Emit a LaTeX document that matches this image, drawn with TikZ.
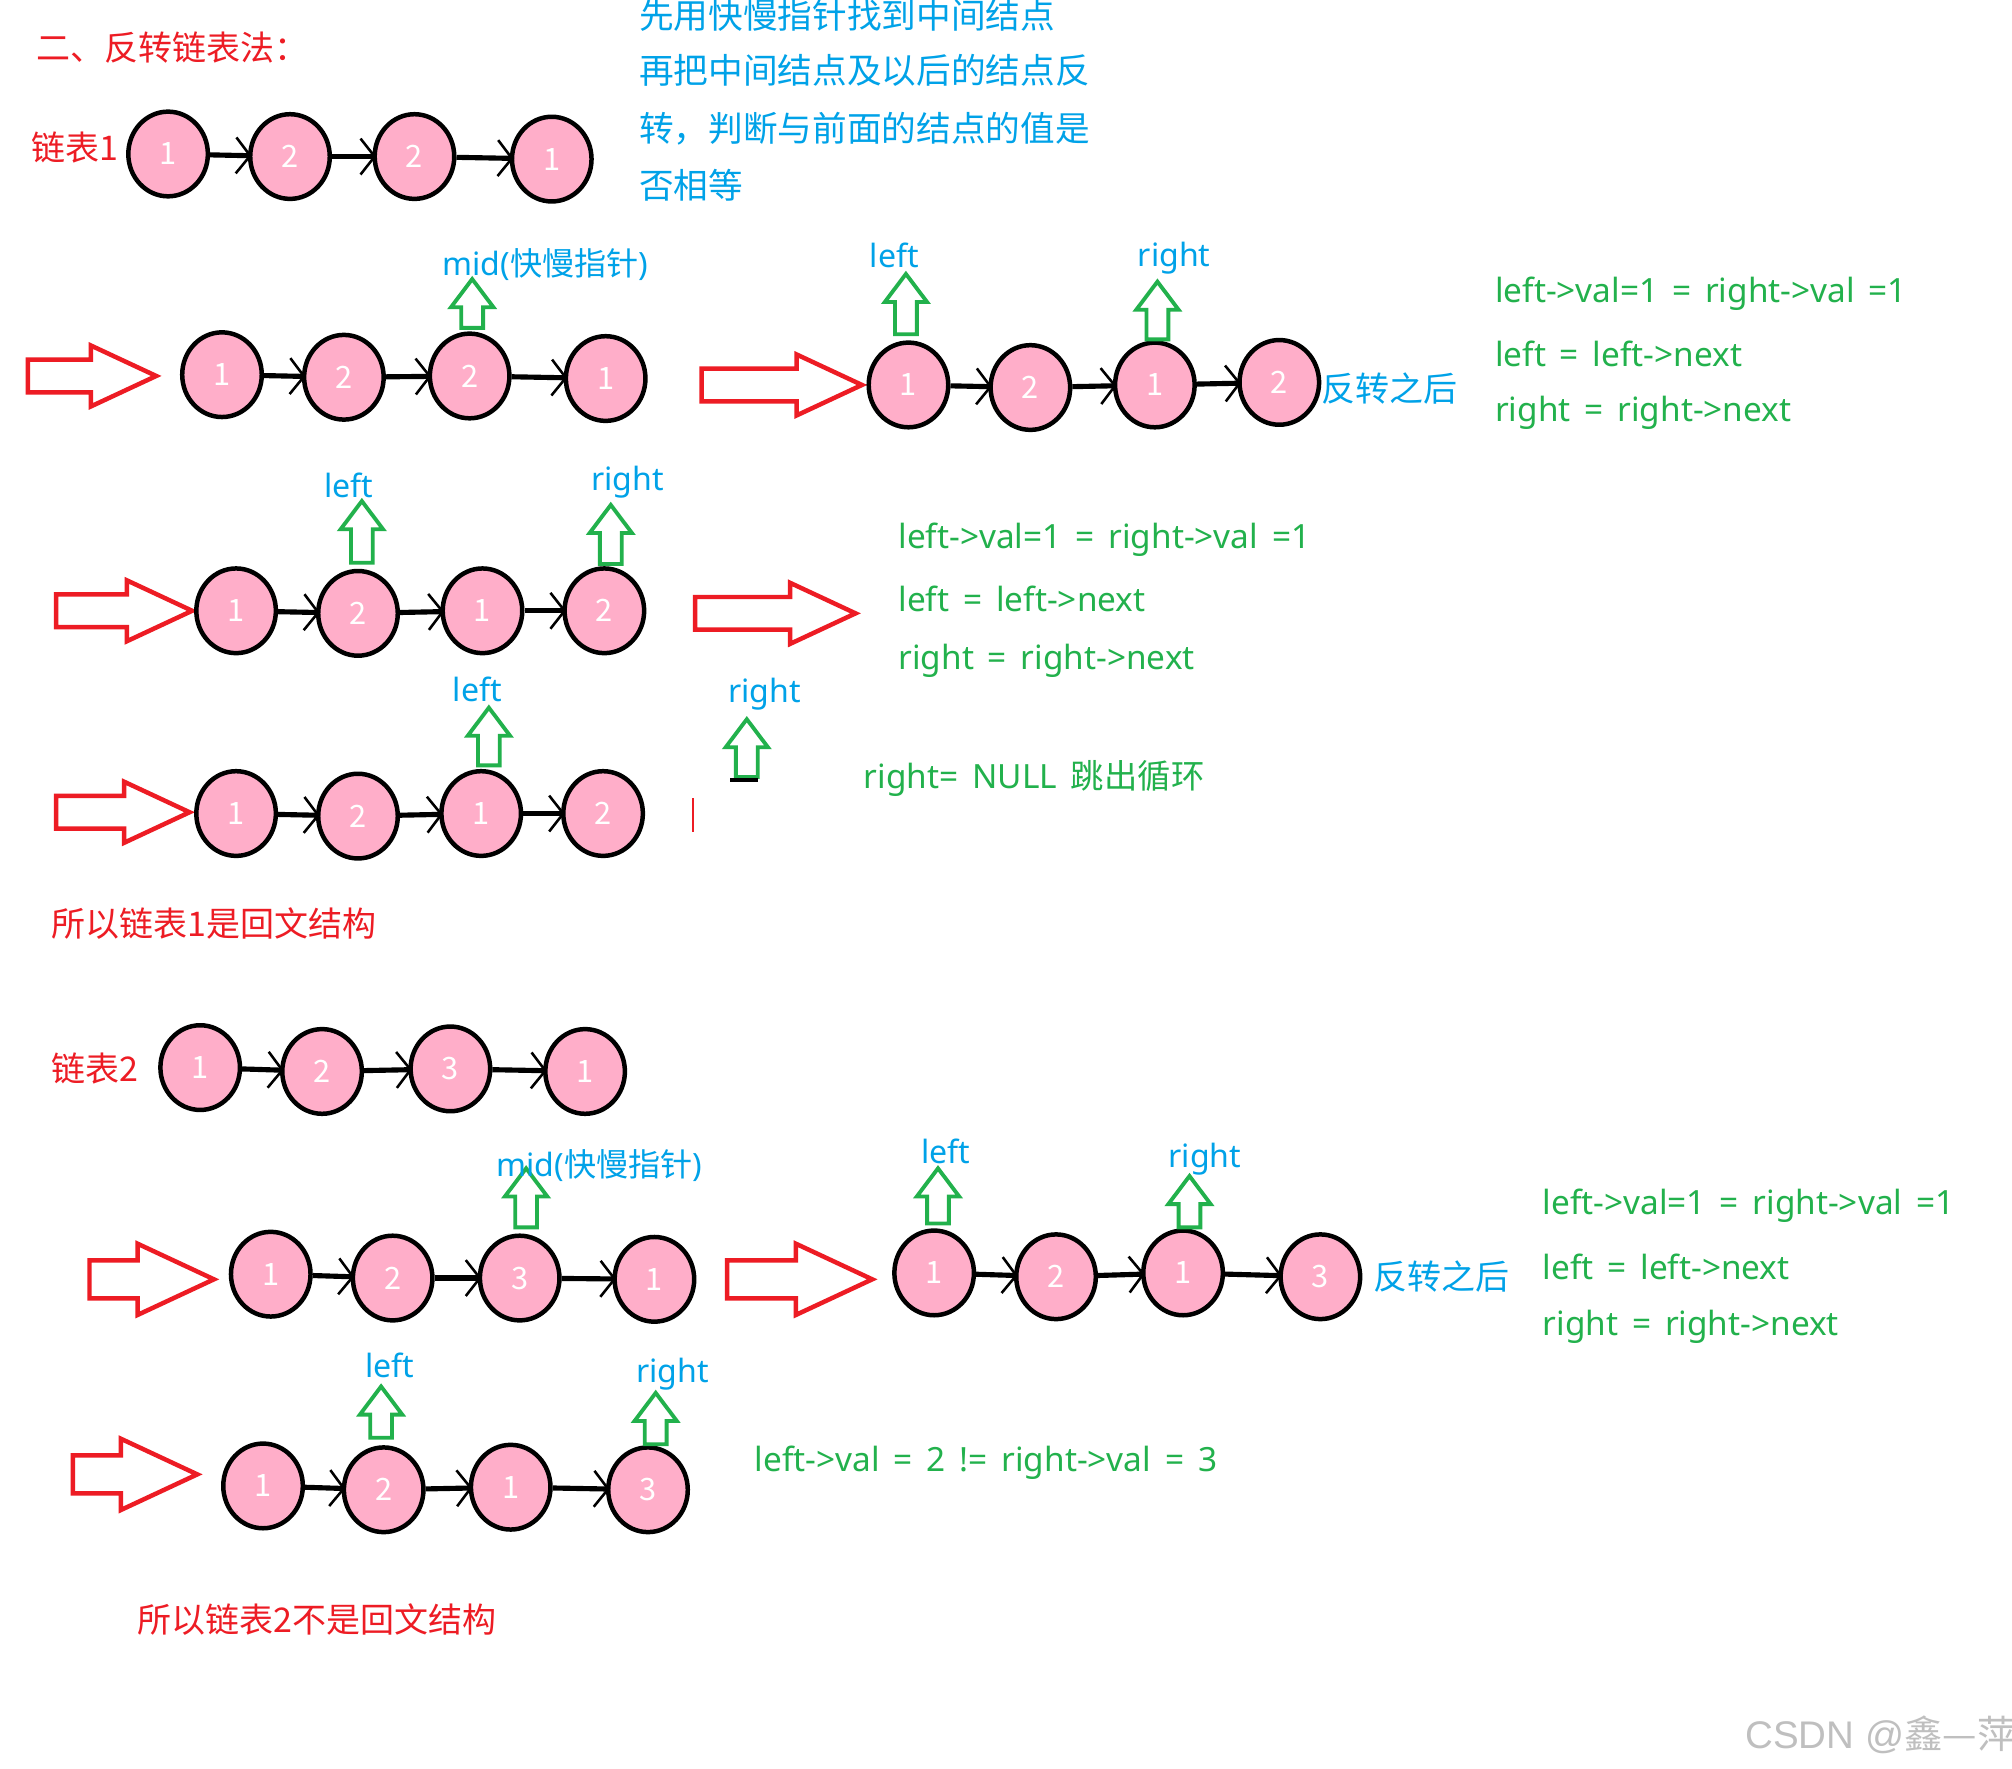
\documentclass[tikz,border=0pt]{standalone}
\usepackage{fontspec}
\setmainfont{Noto Sans}[WordSpace=1.6]
\newfontfamily\cjk{Noto Sans CJK SC}
\newfontfamily\wmfont{Liberation Sans}
\usetikzlibrary{shapes.geometric,shapes.arrows,arrows.meta}
\definecolor{redc}{HTML}{ED1C24}
\definecolor{bluec}{HTML}{00A2E8}
\definecolor{greenc}{HTML}{22B14C}
\definecolor{pinkc}{HTML}{FFAEC9}
\tikzset{
  lnode/.style={ellipse, draw=black, line width=3.5pt, fill=pinkc, minimum width=62pt, minimum height=66pt, inner sep=0pt, text=white, font=\cjk\fontsize{24}{26}\selectfont},
  link/.style={line width=4pt, shorten >=-3pt, -{Straight Barb[length=11pt,width=28pt,line width=2pt]}},
  redarr/.style={single arrow, draw=redc, line width=3.5pt, inner sep=11pt, single arrow head extend=11pt, single arrow tip angle=50, anchor=tail},
  grnarr/.style={single arrow, draw=greenc, line width=3pt, inner sep=7pt, single arrow head extend=8pt, single arrow tip angle=74, shape border rotate=90, anchor=tail},
  redtxt/.style={text=redc, inner sep=0pt, anchor=west, font=\cjk\fontsize{26.5}{30}\selectfont},
  bluetxt/.style={text=bluec, inner sep=0pt, font=\fontsize{25}{30}\selectfont},
  bluepar/.style={text=bluec, inner sep=0pt, anchor=west, font=\cjk\fontsize{27}{30}\selectfont},
  grntxt/.style={text=greenc, inner sep=0pt, anchor=west, font=\fontsize{26}{30}\selectfont},
}
\begin{document}
\begin{tikzpicture}[x=1pt,y=-1pt]
\useasboundingbox[fill=white] (0,0) rectangle (1568,1378.6);

% titles
\node[redtxt] (title) at (28,37) {二、反转链表法：};
\node[bluepar] (p1) at (498,12) {先用快慢指针找到中间结点};
\node[bluepar] (p2) at (498,55) {再把中间结点及以后的结点反};
\node[bluepar] (p3) at (498,100) {转，判断与前面的结点的值是};
\node[bluepar] (p4) at (498,144) {否相等};

% chain 1
\node[redtxt] (lab1) at (24,115) {链表1};
\node[lnode] (c1a) at (131,120) {1};
\node[lnode] (c1b) at (226,122) {2};
\node[lnode] (c1c) at (323,122) {2};
\node[lnode] (c1d) at (430,124) {1};
\draw[link] (c1a) -- (c1b);
\draw[link] (c1b) -- (c1c);
\draw[link] (c1c) -- (c1d);

% row A left
\node[redarr, minimum height=100pt] (raA) at (20,293) {};
\node[lnode] (a1) at (173,292) {1};
\node[lnode] (a2) at (268,294) {2};
\node[lnode] (a3) at (366,293) {2};
\node[lnode] (a4) at (472,295) {1};
\draw[link] (a1) -- (a2);
\draw[link] (a2) -- (a3);
\draw[link] (a3) -- (a4);
\node[grnarr, minimum height=38pt] (gA) at (368,257) {};
\node[bluetxt] (midA) at (425,206) {mid({\cjk 快慢指针})};

% row A right
\node[redarr, minimum height=125pt] (raA2) at (545,300) {};
\node[lnode] (b1) at (708,300) {1};
\node[lnode] (b2) at (803,302) {2};
\node[lnode] (b3) at (900,300) {1};
\node[lnode] (b4) at (997,298) {2};
\draw[link] (b1) -- (b2);
\draw[link] (b2) -- (b3);
\draw[link] (b3) -- (b4);
\node[grnarr, minimum height=47pt] (gAl) at (706,262) {};
\node[grnarr, minimum height=45pt] (gAr) at (902,266) {};
\node[bluetxt] (lA) at (697,199) {left};
\node[bluetxt] (rA) at (915,201) {right};
\node[bluetxt, anchor=west, font=\cjk\fontsize{26.5}{30}\selectfont] (fA) at (1030,303) {反转之后};
\node[grntxt] (tA1) at (1165,229) {left->val=1 = right->val =1};
\node[grntxt] (tA2) at (1165,276) {left = left->next};
\node[grntxt] (tA3) at (1165,322) {right = right->next};

% row B
\node[redarr, minimum height=106pt] (raB) at (42,476) {};
\node[lnode] (d1) at (184,476) {1};
\node[lnode] (d2) at (279,478) {2};
\node[lnode] (d3) at (376,476) {1};
\node[lnode] (d4) at (471,476) {2};
\draw[link] (d1) -- (d2);
\draw[link] (d2) -- (d3);
\draw[link] (d3) -- (d4);
\node[grnarr, minimum height=48pt] (gBl) at (282,440) {};
\node[grnarr, minimum height=46pt] (gBr) at (476,441) {};
\node[bluetxt] (lB) at (272,378) {left};
\node[bluetxt] (rB) at (489,376) {right};
\node[redarr, minimum height=125pt] (raB2) at (540,478) {};
\node[grntxt] (tB1) at (700,421) {left->val=1 = right->val =1};
\node[grntxt] (tB2) at (700,467) {left = left->next};
\node[grntxt] (tB3) at (700,515) {right = right->next};

% row C
\node[redarr, minimum height=104pt] (raC) at (42,633) {};
\node[lnode] (e1) at (184,634) {1};
\node[lnode] (e2) at (279,636) {2};
\node[lnode] (e3) at (375,634) {1};
\node[lnode] (e4) at (470,634) {2};
\draw[link] (e1) -- (e2);
\draw[link] (e2) -- (e3);
\draw[link] (e3) -- (e4);
\node[grnarr, minimum height=45pt] (gCl) at (381,598) {};
\node[grnarr, minimum height=45pt] (gCr) at (582,607) {};
\draw[line width=3pt] (569,608) -- (591,608);
\draw[redc, line width=2pt] (540,622) -- (540,648);
\node[bluetxt] (lC) at (372,537) {left};
\node[bluetxt] (rC) at (596,541) {right};
\node[grntxt] (tC) at (673,607) {right= NULL {\cjk 跳出循环}};

\node[redtxt] (con1) at (40,720) {所以链表1是回文结构};

% chain 2
\node[redtxt] (lab2) at (40,833) {链表2};
\node[lnode] (c2a) at (156,832) {1};
\node[lnode] (c2b) at (251,835) {2};
\node[lnode] (c2c) at (351,833) {3};
\node[lnode] (c2d) at (456,835) {1};
\draw[link] (c2a) -- (c2b);
\draw[link] (c2b) -- (c2c);
\draw[link] (c2c) -- (c2d);

% row D left
\node[redarr, minimum height=97pt, inner sep=13pt, single arrow head extend=13pt] (raD) at (68,997) {};
\node[lnode] (f1) at (211,993) {1};
\node[lnode] (f2) at (306,996) {2};
\node[lnode] (f3) at (405,996) {3};
\node[lnode] (f4) at (510,997) {1};
\draw[link] (f1) -- (f2);
\draw[link] (f2) -- (f3);
\draw[link] (f3) -- (f4);
\node[grnarr, minimum height=46pt] (gD) at (410,958) {};
\node[bluetxt] (midD) at (467,908) {mid({\cjk 快慢指针})};

% row D right
\node[redarr, minimum height=113pt, inner sep=13pt, single arrow head extend=13pt] (raD2) at (565,997) {};
\node[lnode] (g1) at (728,992) {1};
\node[lnode] (g2) at (823,995) {2};
\node[lnode] (g3) at (922,992) {1};
\node[lnode] (g4) at (1029,995) {3};
\draw[link] (g1) -- (g2);
\draw[link] (g2) -- (g3);
\draw[link] (g3) -- (g4);
\node[grnarr, minimum height=43pt] (gDl) at (731,955) {};
\node[grnarr, minimum height=40pt] (gDr) at (927,958) {};
\node[bluetxt] (lD) at (737,897) {left};
\node[bluetxt] (rD) at (939,903) {right};
\node[bluetxt, anchor=west, font=\cjk\fontsize{26.5}{30}\selectfont] (fD) at (1070,995) {反转之后};
\node[grntxt] (tD1) at (1202,940) {left->val=1 = right->val =1};
\node[grntxt] (tD2) at (1202,987) {left = left->next};
\node[grntxt] (tD3) at (1202,1034) {right = right->next};

% row E
\node[redarr, minimum height=97pt, inner sep=13pt, single arrow head extend=13pt] (raE) at (55,1149) {};
\node[lnode] (h1) at (205,1158) {1};
\node[lnode] (h2) at (299,1161) {2};
\node[lnode] (h3) at (398,1159) {1};
\node[lnode] (h4) at (505,1161) {3};
\draw[link] (h1) -- (h2);
\draw[link] (h2) -- (h3);
\draw[link] (h3) -- (h4);
\node[grnarr, minimum height=40pt] (gEl) at (297,1122) {};
\node[grnarr, minimum height=40pt] (gEr) at (511,1127) {};
\node[bluetxt] (lE) at (304,1064) {left};
\node[bluetxt] (rE) at (524,1071) {right};
\node[grntxt] (tE) at (588,1140) {left->val = 2 != right->val = 3};

\node[redtxt] (con2) at (107,1262) {所以链表2不是回文结构};

% watermark
\node[inner sep=0pt, anchor=west, text=black!25, font=\wmfont\fontsize{30}{34}\selectfont] (wm) at (1360,1352) {CSDN @{\cjk 鑫—萍}};
\end{tikzpicture}
\end{document}
